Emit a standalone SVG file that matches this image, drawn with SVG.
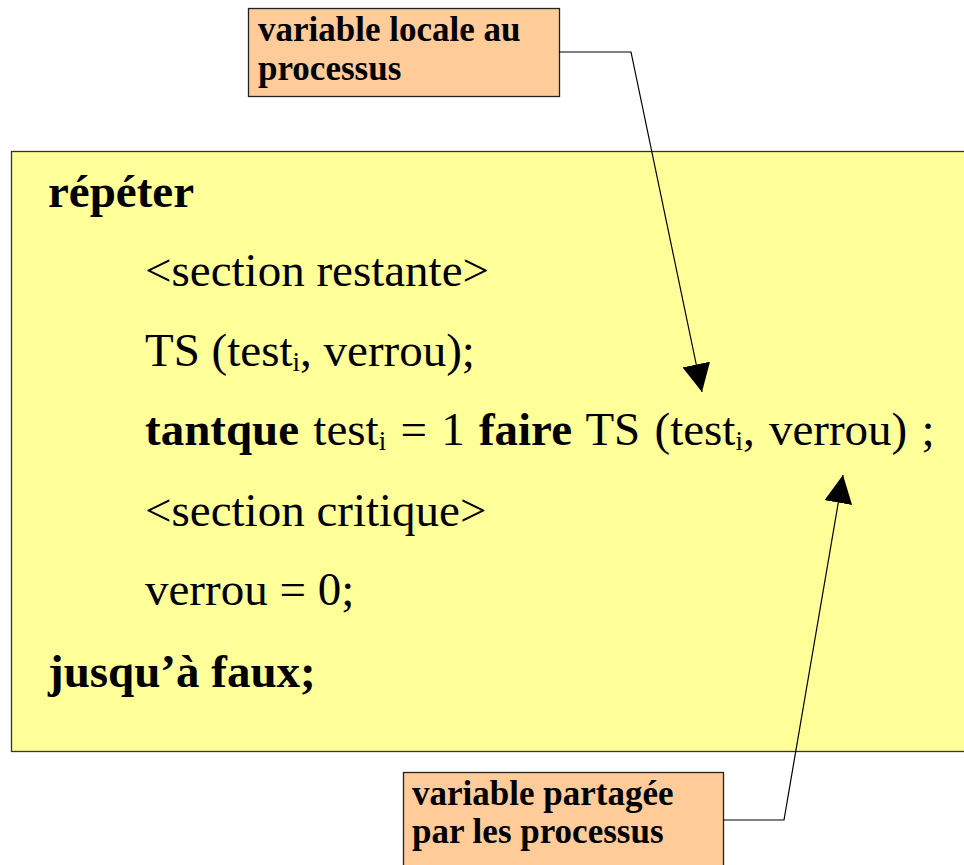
<svg xmlns="http://www.w3.org/2000/svg" width="964" height="865" viewBox="0 0 964 865">
  <style>
    .code { font-family: "Liberation Serif", "Times New Roman", serif; font-size: 47px; fill: #000; }
    .b { font-weight: bold; }
    .sub { font-size: 27px; }
    .wide { word-spacing: 2.5px; }
    .note rect { fill: #FFCC99; stroke: #222; stroke-width: 1.3; }
    .note text { font-family: "Liberation Serif", "Times New Roman", serif; font-size: 35px; font-weight: bold; fill: #000; }
    .wire { fill: none; stroke: #000; stroke-width: 1.2; }
  </style>
  <defs>
    <marker id="arrow" viewBox="0 0 28 28" markerWidth="28" markerHeight="28" refX="28" refY="14" orient="auto" markerUnits="userSpaceOnUse">
      <path d="M0,0 L28,14 L0,28 Z" fill="#000"/>
    </marker>
  </defs>

  <rect width="964" height="865" fill="#fff"/>

  <!-- algorithm block -->
  <g id="algorithm">
    <rect x="11.5" y="151.5" width="970" height="600" fill="#FFFF99" stroke="#333" stroke-width="1.3"/>
    <text class="code b" x="48" y="207">répéter</text>
    <text class="code" x="145" y="286">&lt;section restante&gt;</text>
    <text class="code" x="145" y="366">TS (test<tspan class="sub" dy="5">i</tspan><tspan dy="-5">, verrou);</tspan></text>
    <text class="code wide" x="145" y="445"><tspan class="b">tantque</tspan> test<tspan class="sub" dy="5">i</tspan><tspan dy="-5"> = 1 </tspan><tspan class="b">faire</tspan> TS (test<tspan class="sub" dy="5">i</tspan><tspan dy="-5">, verrou) ;</tspan></text>
    <text class="code" x="145" y="526">&lt;section critique&gt;</text>
    <text class="code" x="145" y="605">verrou = 0;</text>
    <text class="code b" x="48" y="687">jusqu’à faux;</text>
  </g>

  <!-- annotation: local variable -->
  <g id="note-local" class="note">
    <rect x="248.5" y="8.5" width="311" height="88"/>
    <text x="258" y="41">variable locale au</text>
    <text x="258" y="80">processus</text>
  </g>

  <!-- annotation: shared variable -->
  <g id="note-shared" class="note">
    <rect x="403.5" y="772.5" width="320" height="100"/>
    <text x="412" y="805">variable partagée</text>
    <text x="412" y="843">par les processus</text>
  </g>

  <!-- connectors -->
  <g id="connectors">
    <polyline class="wire" points="559,52 631,52 702,392" marker-end="url(#arrow)"/>
    <polyline class="wire" points="723,820 784,820 843,475" marker-end="url(#arrow)"/>
  </g>
</svg>
